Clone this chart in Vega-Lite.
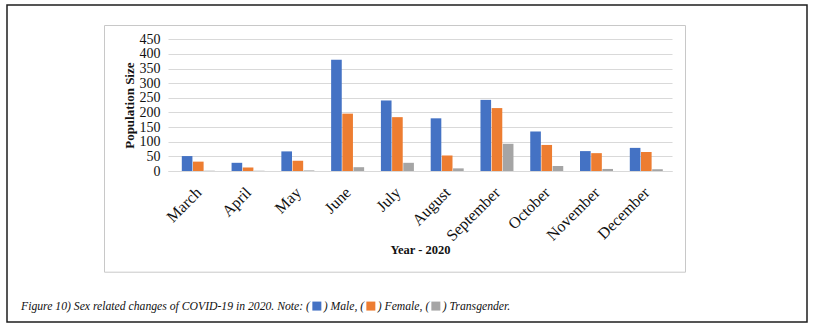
{
  "$schema": "https://vega.github.io/schema/vega-lite/v6.json",
  "width": 800,
  "height": 317,
  "padding": {"left": 7, "top": 5, "right": 8, "bottom": 5},
  "autosize": {"type": "none"},
  "background": "white",
  "config": {
    "view": {"stroke": "#1e1e1e", "strokeWidth": 1.5},
    "font": "Liberation Serif"
  },
  "data": {
    "values": [
      {"month": "March", "sex": "Male", "value": 51},
      {"month": "March", "sex": "Female", "value": 32},
      {"month": "March", "sex": "Transgender", "value": 1},
      {"month": "April", "sex": "Male", "value": 28},
      {"month": "April", "sex": "Female", "value": 12},
      {"month": "April", "sex": "Transgender", "value": 1},
      {"month": "May", "sex": "Male", "value": 67},
      {"month": "May", "sex": "Female", "value": 35},
      {"month": "May", "sex": "Transgender", "value": 2},
      {"month": "June", "sex": "Male", "value": 380},
      {"month": "June", "sex": "Female", "value": 196},
      {"month": "June", "sex": "Transgender", "value": 13},
      {"month": "July", "sex": "Male", "value": 241},
      {"month": "July", "sex": "Female", "value": 184},
      {"month": "July", "sex": "Transgender", "value": 28},
      {"month": "August", "sex": "Male", "value": 180},
      {"month": "August", "sex": "Female", "value": 53},
      {"month": "August", "sex": "Transgender", "value": 9},
      {"month": "September", "sex": "Male", "value": 243},
      {"month": "September", "sex": "Female", "value": 215},
      {"month": "September", "sex": "Transgender", "value": 93},
      {"month": "October", "sex": "Male", "value": 135},
      {"month": "October", "sex": "Female", "value": 89},
      {"month": "October", "sex": "Transgender", "value": 17},
      {"month": "November", "sex": "Male", "value": 68},
      {"month": "November", "sex": "Female", "value": 61},
      {"month": "November", "sex": "Transgender", "value": 7},
      {"month": "December", "sex": "Male", "value": 79},
      {"month": "December", "sex": "Female", "value": 65},
      {"month": "December", "sex": "Transgender", "value": 6}
    ]
  },
  "layer": [
    {
      "mark": {"type": "bar"},
      "encoding": {
        "x": {
          "field": "month",
          "type": "nominal",
          "sort": ["March", "April", "May", "June", "July", "August", "September", "October", "November", "December"],
          "scale": {"range": [161, 665], "paddingInner": 0.337, "paddingOuter": 0.231, "align": 0.6},
          "axis": {
            "orient": "bottom",
            "offset": -151,
            "title": "Year - 2020",
            "labelAngle": -45,
            "labelFont": "Liberation Serif",
            "labelFontSize": 16,
            "labelColor": "#111",
            "labelPadding": 13,
            "labelOffset": -5,
            "ticks": false,
            "domain": true,
            "domainColor": "#d9d9d9",
            "grid": false,
            "titleFont": "Liberation Serif",
            "titleFontSize": 12.5,
            "titleFontWeight": "bold",
            "titleColor": "#111",
            "titlePadding": 0
          }
        },
        "xOffset": {
          "field": "sex",
          "sort": ["Male", "Female", "Transgender"],
          "scale": {"paddingInner": 0.05}
        },
        "y": {
          "field": "value",
          "type": "quantitative",
          "scale": {"domain": [0, 450], "range": [166, 34.3], "nice": false},
          "axis": {
            "orient": "left",
            "offset": -161,
            "title": "Population Size",
            "values": [0, 50, 100, 150, 200, 250, 300, 350, 400, 450],
            "grid": true,
            "gridColor": "#d9d9d9",
            "gridWidth": 1,
            "domain": false,
            "ticks": false,
            "labelFont": "Liberation Serif",
            "labelFontSize": 14,
            "labelPadding": 8,
            "labelColor": "#111",
            "titleFont": "Liberation Serif",
            "titleFontSize": 13,
            "titleFontWeight": "bold",
            "titleColor": "#111",
            "titlePadding": 3
          }
        },
        "color": {
          "field": "sex",
          "type": "nominal",
          "scale": {"domain": ["Male", "Female", "Transgender"], "range": ["#4472C4", "#ED7D31", "#A5A5A5"]},
          "legend": {
            "orient": "none",
            "legendX": 14,
            "legendY": 295,
            "direction": "horizontal",
            "title": "Figure 10) Sex related changes of COVID-19 in 2020. Note: (",
            "titleOrient": "left",
            "titleFont": "Liberation Serif",
            "titleFontSize": 11.7,
            "titleFontWeight": "normal",
            "titleFontStyle": "italic",
            "titleColor": "#111",
            "titleLimit": 1000,
            "titlePadding": 1,
            "symbolType": "square",
            "symbolSize": 81,
            "symbolStrokeWidth": 0,
            "symbolOpacity": 1,
            "labelExpr": "datum.label == 'Male' ? ') Male, (' : datum.label == 'Female' ? ') Female, (' : ') Transgender.'",
            "labelFont": "Liberation Serif",
            "labelFontSize": 11.7,
            "labelFontStyle": "italic",
            "labelColor": "#111",
            "labelOffset": 1,
            "labelLimit": 300,
            "columnPadding": 0,
            "symbolOffset": 0
          }
        }
      }
    },
    {
      "mark": {"type": "point", "opacity": 0},
      "encoding": {
        "x": {
          "datum": 0,
          "type": "quantitative",
          "scale": {"domain": [0, 1], "range": [97, 678]},
          "axis": {"orient": "top", "offset": -20, "title": null, "labels": false, "ticks": false, "grid": false, "domain": true, "domainColor": "#c8c8c8", "domainWidth": 1}
        },
        "y": {
          "datum": 0,
          "type": "quantitative",
          "scale": {"domain": [0, 1], "range": [266.7, 20]},
          "axis": {"orient": "right", "offset": -122, "title": null, "labels": false, "ticks": false, "grid": false, "domain": true, "domainColor": "#c8c8c8", "domainWidth": 1}
        }
      }
    },
    {
      "mark": {"type": "point", "opacity": 0},
      "encoding": {
        "x": {
          "datum": 0,
          "type": "quantitative",
          "scale": {"domain": [0, 1], "range": [97, 678]},
          "axis": {"orient": "bottom", "offset": -50.3, "title": null, "labels": false, "ticks": false, "grid": false, "domain": true, "domainColor": "#c8c8c8", "domainWidth": 1}
        },
        "y": {
          "datum": 0,
          "type": "quantitative",
          "scale": {"domain": [0, 1], "range": [266.7, 20]},
          "axis": {"orient": "left", "offset": -97, "title": null, "labels": false, "ticks": false, "grid": false, "domain": true, "domainColor": "#c8c8c8", "domainWidth": 1}
        }
      }
    }
  ],
  "resolve": {
    "scale": {"x": "independent", "y": "independent"},
    "axis": {"x": "independent", "y": "independent"}
  }
}
